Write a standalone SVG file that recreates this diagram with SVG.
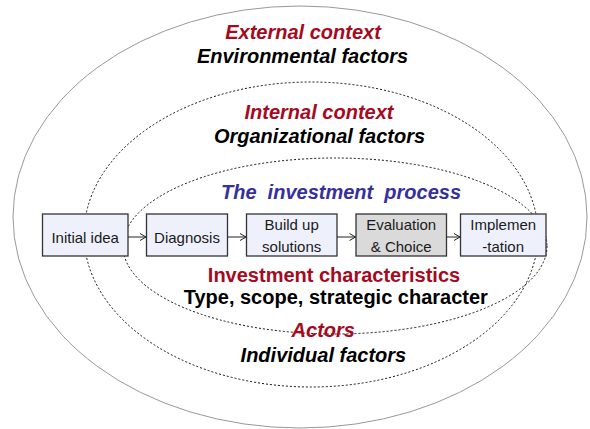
<svg xmlns="http://www.w3.org/2000/svg" width="590" height="429" viewBox="0 0 590 429">
<defs>
<marker id="arr" markerWidth="10" markerHeight="10" refX="8" refY="5" orient="auto" markerUnits="userSpaceOnUse">
<path d="M2,1.5 L8,5 L2,8.5" fill="none" stroke="#222" stroke-width="1"/>
</marker>
</defs>
<style>
.outer{fill:none;stroke:#999;stroke-width:1}
.dot{fill:none;stroke:#111;stroke-width:1;stroke-dasharray:2 2}
.box{fill:#eef1fc;stroke:#333;stroke-width:1.3}
.grey{fill:#dadada}
.bt{font-family:"Liberation Sans",Arial,sans-serif;font-size:15px;fill:#1a1a1a;text-anchor:middle}
.h{font-family:"Liberation Sans",Arial,sans-serif;font-size:20px;font-weight:bold;text-anchor:middle}
.i{font-style:italic}
.red{fill:#a50a1e}
.blk{fill:#000}
.blue{fill:#36309a}
.conn line{stroke:#222;stroke-width:1;marker-end:url(#arr)}
</style>
<rect width="590" height="429" fill="#fff"/>
<g id="contexts">
<ellipse class="outer" cx="300" cy="217" rx="287" ry="211"/>
<ellipse class="dot" cx="311" cy="234.5" rx="227" ry="152.5"/>
<ellipse class="dot" cx="335" cy="246" rx="212" ry="88"/>
</g>
<g id="labels">
<text class="h i red" x="303" y="38.5">External context</text>
<text class="h i blk" x="302.5" y="62.5">Environmental factors</text>
<text class="h i red" x="319" y="119">Internal context</text>
<text class="h i blk" x="319.5" y="143.3">Organizational factors</text>
<text class="h i blue" x="341" y="199.3">The&#160; investment&#160; process</text>
<text class="h red" x="334" y="281.5">Investment characteristics</text>
<text class="h blk" x="335.8" y="304.3">Type, scope, strategic character</text>
<text class="h i red" x="323.3" y="337.3">Actors</text>
<text class="h i blk" x="323.4" y="361.7">Individual factors</text>
</g>
<g id="initial-idea">
<rect class="box" x="42.5" y="214" width="85.5" height="42"/>
<text class="bt" x="85.2" y="243">Initial idea</text>
</g>
<g id="diagnosis">
<rect class="box" x="146.5" y="214" width="81" height="42"/>
<text class="bt" x="187" y="243">Diagnosis</text>
</g>
<g id="build-up">
<rect class="box" x="246.5" y="214" width="90.5" height="42"/>
<text class="bt" x="291.7" y="230">Build up</text>
<text class="bt" x="291.7" y="252">solutions</text>
</g>
<g id="evaluation">
<rect class="box grey" x="356" y="214" width="90.5" height="42"/>
<text class="bt" x="401.2" y="230">Evaluation</text>
<text class="bt" x="401.2" y="252">&amp; Choice</text>
</g>
<g id="implementation">
<rect class="box" x="460.5" y="214" width="85.5" height="42"/>
<text class="bt" x="503.2" y="230">Implemen</text>
<text class="bt" x="503.2" y="252">-tation</text>
</g>
<g id="connectors" class="conn">
<line x1="128" y1="237" x2="146" y2="237"/>
<line x1="227.5" y1="237" x2="246" y2="237"/>
<line x1="337" y1="237" x2="355.5" y2="237"/>
<line x1="446.5" y1="237" x2="460" y2="237"/>
</g>
</svg>
